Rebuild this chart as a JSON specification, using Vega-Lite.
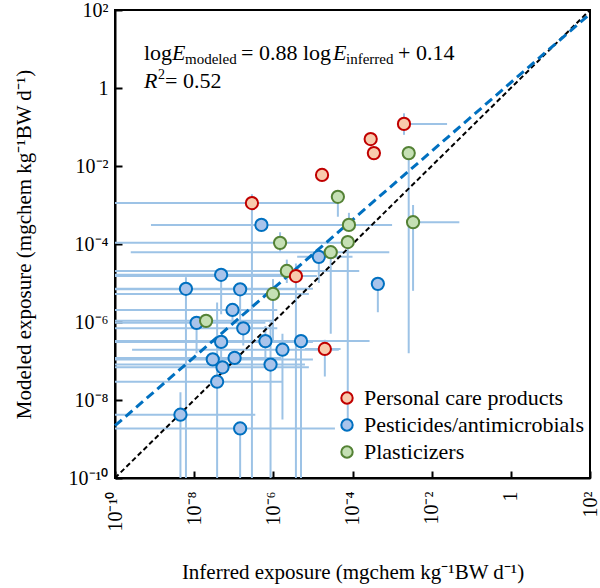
{
  "$schema": "https://vega.github.io/schema/vega-lite/v6.json",
  "width": 475,
  "height": 468,
  "autosize": {"type": "none"},
  "padding": {"left": 115, "top": 10, "right": 10, "bottom": 110},
  "background": "white",
  "config": {
    "font": "Liberation Serif",
    "view": {"stroke": "black", "strokeWidth": 2},
    "axis": {
      "domainColor": "black", "domainWidth": 2, "tickColor": "black", "tickWidth": 2, "tickSize": -7,
      "labelFont": "Liberation Serif", "labelFontSize": 20, "labelColor": "black",
      "titleFont": "Liberation Serif", "titleFontSize": 21, "titleFontWeight": "normal", "titleColor": "black",
      "grid": false
    },
    "legend": {"labelFont": "Liberation Serif", "labelFontSize": 22, "labelColor": "black", "symbolSize": 130, "symbolStrokeWidth": 2, "rowPadding": 5, "labelLimit": 400, "labelOffset": 6}
  },
  "datasets": {
    "pts": [
      {"g": "Pesticides/antimicrobials", "x": 5.0e-7, "y": 3.09e-4, "xlo": 8.1e-10, "xhi": 1.0e-3},
      {"g": "Pesticides/antimicrobials", "x": 1.41e-5, "y": 4.68e-5, "xlo": 4.0e-6, "xhi": 1.0e-4, "ylo": 1.0e-5, "yhi": 4.68e-5},
      {"g": "Pesticides/antimicrobials", "x": 4.8e-8, "y": 1.62e-5, "xlo": 1e-10, "xhi": 2.5e-6, "ylo": 1.58e-6, "yhi": 1.62e-5},
      {"g": "Pesticides/antimicrobials", "x": 6.2e-9, "y": 7.1e-6, "xlo": 1e-10, "xhi": 1.0e-5, "ylo": 1e-10, "yhi": 1.41e-5},
      {"g": "Pesticides/antimicrobials", "x": 1.45e-7, "y": 6.9e-6, "xlo": 1e-10, "xhi": 6.3e-6, "ylo": 1.0e-6, "yhi": 6.9e-6},
      {"g": "Pesticides/antimicrobials", "x": 4.37e-4, "y": 9.5e-6, "ylo": 1.78e-6, "yhi": 1.41e-5},
      {"g": "Pesticides/antimicrobials", "x": 9.3e-8, "y": 2.04e-6, "xlo": 1e-10, "xhi": 1.26e-6, "ylo": 1.0e-6, "yhi": 2.04e-6},
      {"g": "Pesticides/antimicrobials", "x": 1.15e-8, "y": 9.5e-7, "xlo": 1e-10, "xhi": 6.3e-7, "ylo": 1.58e-7, "yhi": 9.5e-7},
      {"g": "Pesticides/antimicrobials", "x": 1.74e-7, "y": 6.9e-7, "xlo": 1e-10, "xhi": 1.26e-6, "ylo": 2.5e-7, "yhi": 6.9e-7},
      {"g": "Pesticides/antimicrobials", "x": 4.8e-8, "y": 3.09e-7, "xlo": 1e-10, "xhi": 1.0e-5, "ylo": 1.0e-7, "yhi": 3.09e-7},
      {"g": "Pesticides/antimicrobials", "x": 6.3e-7, "y": 3.24e-7, "xlo": 1e-10, "xhi": 3.16e-6, "ylo": 1.0e-7, "yhi": 7.9e-7},
      {"g": "Pesticides/antimicrobials", "x": 5.0e-6, "y": 3.24e-7, "xlo": 1e-10, "xhi": 2.7e-4, "ylo": 1e-10, "yhi": 3.24e-7},
      {"g": "Pesticides/antimicrobials", "x": 1.7e-6, "y": 1.95e-7, "xlo": 2.7e-10, "xhi": 4.5e-5, "ylo": 3.16e-9, "yhi": 5.0e-7},
      {"g": "Pesticides/antimicrobials", "x": 2.95e-8, "y": 1.1e-7, "xlo": 1e-10, "xhi": 1.0e-5},
      {"g": "Pesticides/antimicrobials", "x": 1.05e-7, "y": 1.2e-7, "xlo": 1e-10, "xhi": 1.58e-6},
      {"g": "Pesticides/antimicrobials", "x": 5.2e-8, "y": 6.9e-8, "xlo": 1e-10, "xhi": 7.9e-6},
      {"g": "Pesticides/antimicrobials", "x": 8.5e-7, "y": 8.1e-8, "xlo": 1e-10, "xhi": 6.3e-6, "ylo": 1e-10, "yhi": 1.0e-6},
      {"g": "Pesticides/antimicrobials", "x": 3.8e-8, "y": 2.95e-8, "xlo": 1e-10, "xhi": 1.66e-6, "ylo": 1e-10, "yhi": 3.16e-6},
      {"g": "Pesticides/antimicrobials", "x": 4.5e-9, "y": 4.2e-9, "xlo": 1e-10, "xhi": 3.5e-7, "ylo": 1e-10, "yhi": 1.58e-8},
      {"g": "Pesticides/antimicrobials", "x": 1.45e-7, "y": 1.86e-9, "xlo": 1e-10, "xhi": 3.6e-5, "ylo": 1e-10, "yhi": 1.86e-9},
      {"g": "Plasticizers", "x": 2.63e-3, "y": 0.0214, "ylo": 1.58e-7, "yhi": 0.0316},
      {"g": "Plasticizers", "x": 4.27e-5, "y": 1.62e-3, "ylo": 5.0e-4, "yhi": 1.62e-3},
      {"g": "Plasticizers", "x": 3.39e-3, "y": 3.63e-4, "xlo": 3.39e-3, "xhi": 0.05, "ylo": 6.3e-6, "yhi": 1.0e-3},
      {"g": "Plasticizers", "x": 8.13e-5, "y": 3.09e-4, "ylo": 3.09e-4, "yhi": 6.3e-4},
      {"g": "Plasticizers", "x": 1.48e-6, "y": 1.07e-4, "xlo": 1e-10, "xhi": 7.9e-5, "ylo": 6.3e-5, "yhi": 2.0e-4},
      {"g": "Plasticizers", "x": 7.59e-5, "y": 1.12e-4, "ylo": 2.0e-9, "yhi": 1.12e-4},
      {"g": "Plasticizers", "x": 2.82e-5, "y": 6.17e-5, "xlo": 2.5e-10, "xhi": 8.5e-4, "ylo": 5.0e-7, "yhi": 6.17e-5},
      {"g": "Plasticizers", "x": 2.19e-6, "y": 2.04e-5, "xlo": 1e-10, "xhi": 1.48e-4, "ylo": 1.0e-5, "yhi": 3.98e-5},
      {"g": "Plasticizers", "x": 9.8e-7, "y": 5.25e-6, "xlo": 1e-10, "xhi": 7.9e-6, "ylo": 3.16e-7, "yhi": 1.26e-5},
      {"g": "Plasticizers", "x": 2.0e-8, "y": 1.07e-6, "xlo": 1e-10, "xhi": 1.0e-6},
      {"g": "Personal care products", "x": 2.0e-3, "y": 0.12, "xlo": 2.0e-3, "xhi": 0.0245, "ylo": 0.063, "yhi": 0.224},
      {"g": "Personal care products", "x": 2.88e-4, "y": 0.049},
      {"g": "Personal care products", "x": 3.47e-4, "y": 0.0214},
      {"g": "Personal care products", "x": 1.7e-5, "y": 5.9e-3},
      {"g": "Personal care products", "x": 2.88e-7, "y": 1.12e-3, "xlo": 1e-10, "xhi": 4.07e-5, "ylo": 1e-10, "yhi": 1.9e-3},
      {"g": "Personal care products", "x": 3.72e-6, "y": 1.51e-5, "xlo": 1e-10, "xhi": 1.26e-5, "ylo": 1e-10, "yhi": 3.16e-5},
      {"g": "Personal care products", "x": 2.0e-5, "y": 2.04e-7, "xlo": 6.3e-6, "xhi": 5.0e-5, "ylo": 4.0e-8, "yhi": 3.5e-7}
    ]
  },
  "layer": [
    {
      "data": {"name": "pts"},
      "transform": [{"filter": "isValid(datum.xlo)"}],
      "mark": {"type": "rule", "color": "#9DC3E6", "strokeWidth": 2, "clip": true},
      "encoding": {
        "x": {"field": "xlo", "type": "quantitative", "scale": {"type": "log", "domain": [1e-10, 100]},
          "axis": {"values": [1e-10, 1e-8, 1e-6, 1e-4, 1e-2, 1, 100], "labelAngle": -90, "labelPadding": 20,
            "labelExpr": "['10⁻¹⁰','10⁻⁸','10⁻⁶','10⁻⁴','10⁻²','1','10²'][round(log(datum.value)/LN10/2)+5]",
            "title": "Inferred exposure (mgchem kg⁻¹BW d⁻¹)", "titlePadding": 31}},
        "x2": {"field": "xhi"},
        "y": {"field": "y", "type": "quantitative", "scale": {"type": "log", "domain": [1e-10, 100]},
          "axis": {"values": [1e-10, 1e-8, 1e-6, 1e-4, 1e-2, 1, 100], "labelPadding": 14,
            "labelExpr": "['10⁻¹⁰','10⁻⁸','10⁻⁶','10⁻⁴','10⁻²','1','10²'][round(log(datum.value)/LN10/2)+5]",
            "title": "Modeled exposure (mgchem kg⁻¹BW d⁻¹)", "titlePadding": 34}}
      }
    },
    {
      "data": {"name": "pts"},
      "transform": [{"filter": "isValid(datum.ylo)"}],
      "mark": {"type": "rule", "color": "#9DC3E6", "strokeWidth": 2, "clip": true},
      "encoding": {
        "x": {"field": "x", "type": "quantitative"},
        "y": {"field": "ylo", "type": "quantitative"},
        "y2": {"field": "yhi"}
      }
    },
    {
      "data": {"values": [{"x": 1e-10, "y": 1e-10}, {"x": 100, "y": 100}]},
      "mark": {"type": "line", "color": "black", "strokeWidth": 2, "strokeDash": [5, 3]},
      "encoding": {"x": {"field": "x", "type": "quantitative"}, "y": {"field": "y", "type": "quantitative"}}
    },
    {
      "data": {"values": [{"x": 1e-10, "y": 2.19e-9}, {"x": 100, "y": 79.4}]},
      "mark": {"type": "line", "color": "#0070C0", "strokeWidth": 3, "strokeDash": [9, 5]},
      "encoding": {"x": {"field": "x", "type": "quantitative"}, "y": {"field": "y", "type": "quantitative"}}
    },
    {
      "data": {"name": "pts"},
      "mark": {"type": "point", "shape": "circle", "filled": false, "size": 150, "strokeWidth": 2, "fillOpacity": 1, "opacity": 1},
      "encoding": {
        "x": {"field": "x", "type": "quantitative"},
        "y": {"field": "y", "type": "quantitative"},
        "fill": {"field": "g", "type": "nominal",
          "scale": {"domain": ["Personal care products", "Pesticides/antimicrobials", "Plasticizers"], "range": ["#F8CBAD", "#A9C4EB", "#C5E0B4"]},
          "legend": {"title": null, "orient": "none", "legendX": 221, "legendY": 377}},
        "stroke": {"field": "g", "type": "nominal",
          "scale": {"domain": ["Personal care products", "Pesticides/antimicrobials", "Plasticizers"], "range": ["#C00000", "#0070C0", "#548235"]},
          "legend": {"title": null, "orient": "none", "legendX": 221, "legendY": 377}}
      }
    },
    {"data": {"values": [{"x": 5.4e-10, "y": 5.22, "t": "log"}]}, "mark": {"type": "text", "font": "Liberation Serif", "fontSize": 22, "align": "left", "baseline": "alphabetic", "color": "black"},
      "encoding": {"x": {"field": "x", "type": "quantitative"}, "y": {"field": "y", "type": "quantitative"}, "text": {"field": "t"}}},
    {"data": {"values": [{"x": 5.4e-10, "y": 5.22, "t": "E"}]}, "mark": {"type": "text", "font": "Liberation Serif", "fontSize": 22, "align": "left", "baseline": "alphabetic", "color": "black", "dx": 28, "fontStyle": "italic"},
      "encoding": {"x": {"field": "x", "type": "quantitative"}, "y": {"field": "y", "type": "quantitative"}, "text": {"field": "t"}}},
    {"data": {"values": [{"x": 5.4e-10, "y": 5.22, "t": "modeled"}]}, "mark": {"type": "text", "font": "Liberation Serif", "fontSize": 15, "align": "left", "baseline": "alphabetic", "color": "black", "dx": 41, "dy": 4},
      "encoding": {"x": {"field": "x", "type": "quantitative"}, "y": {"field": "y", "type": "quantitative"}, "text": {"field": "t"}}},
    {"data": {"values": [{"x": 5.4e-10, "y": 5.22, "t": "= 0.88 log"}]}, "mark": {"type": "text", "font": "Liberation Serif", "fontSize": 22, "align": "left", "baseline": "alphabetic", "color": "black", "dx": 97},
      "encoding": {"x": {"field": "x", "type": "quantitative"}, "y": {"field": "y", "type": "quantitative"}, "text": {"field": "t"}}},
    {"data": {"values": [{"x": 5.4e-10, "y": 5.22, "t": "E"}]}, "mark": {"type": "text", "font": "Liberation Serif", "fontSize": 22, "align": "left", "baseline": "alphabetic", "color": "black", "dx": 189, "fontStyle": "italic"},
      "encoding": {"x": {"field": "x", "type": "quantitative"}, "y": {"field": "y", "type": "quantitative"}, "text": {"field": "t"}}},
    {"data": {"values": [{"x": 5.4e-10, "y": 5.22, "t": "inferred"}]}, "mark": {"type": "text", "font": "Liberation Serif", "fontSize": 15, "align": "left", "baseline": "alphabetic", "color": "black", "dx": 202, "dy": 4},
      "encoding": {"x": {"field": "x", "type": "quantitative"}, "y": {"field": "y", "type": "quantitative"}, "text": {"field": "t"}}},
    {"data": {"values": [{"x": 5.4e-10, "y": 5.22, "t": "+ 0.14"}]}, "mark": {"type": "text", "font": "Liberation Serif", "fontSize": 22, "align": "left", "baseline": "alphabetic", "color": "black", "dx": 254},
      "encoding": {"x": {"field": "x", "type": "quantitative"}, "y": {"field": "y", "type": "quantitative"}, "text": {"field": "t"}}},
    {"data": {"values": [{"x": 5.4e-10, "y": 1, "t": "R"}]}, "mark": {"type": "text", "font": "Liberation Serif", "fontSize": 22, "align": "left", "baseline": "alphabetic", "color": "black", "fontStyle": "italic"},
      "encoding": {"x": {"field": "x", "type": "quantitative"}, "y": {"field": "y", "type": "quantitative"}, "text": {"field": "t"}}},
    {"data": {"values": [{"x": 5.4e-10, "y": 1, "t": "2"}]}, "mark": {"type": "text", "font": "Liberation Serif", "fontSize": 14, "align": "left", "baseline": "alphabetic", "color": "black", "dx": 14, "dy": -9},
      "encoding": {"x": {"field": "x", "type": "quantitative"}, "y": {"field": "y", "type": "quantitative"}, "text": {"field": "t"}}},
    {"data": {"values": [{"x": 5.4e-10, "y": 1, "t": "= 0.52"}]}, "mark": {"type": "text", "font": "Liberation Serif", "fontSize": 22, "align": "left", "baseline": "alphabetic", "color": "black", "dx": 21},
      "encoding": {"x": {"field": "x", "type": "quantitative"}, "y": {"field": "y", "type": "quantitative"}, "text": {"field": "t"}}}
  ]
}
